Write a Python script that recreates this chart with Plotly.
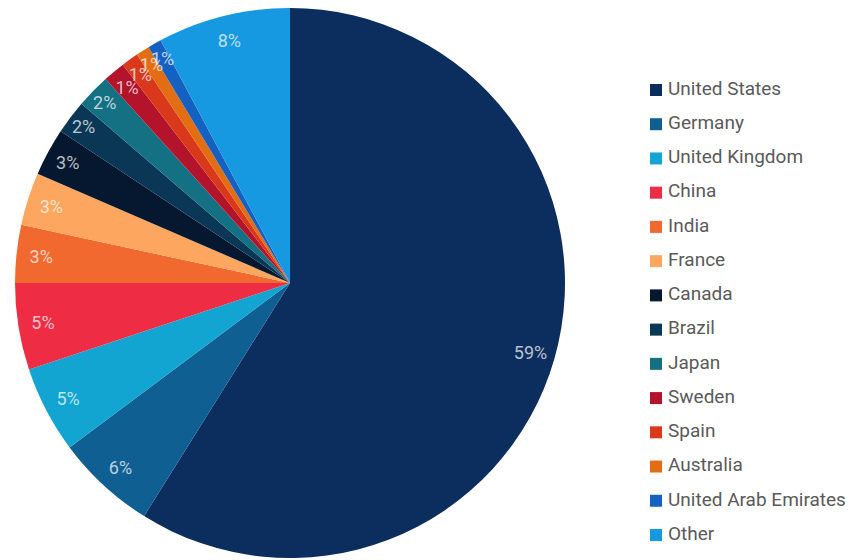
import plotly.graph_objects as go

countries = ["United States", "Germany", "United Kingdom", "China", "India", "France",
             "Canada", "Brazil", "Japan", "Sweden", "Spain", "Australia",
             "United Arab Emirates", "Other"]
shares = [58.9, 5.9, 5.1, 5.1, 3.4, 3.1, 2.8, 2.0, 2.0, 1.3, 1.0, 0.8, 0.8, 7.8]
colors = ["#0c2e5e", "#0f5f93", "#12a5d1", "#ee2c43", "#f2692f", "#fca65f",
          "#06182f", "#0b3756", "#137183", "#b3142b", "#d9391a", "#e36d12",
          "#1561c2", "#1699e1"]
legend_rank = list(range(len(countries)))

W, H = 864, 560
# page is rendered with an 8px body margin; pie spans figure px x 6..558, y 0..550
dom_x = [6 / W, 558 / W]
dom_y = [10 / H, 1.0]
# slightly smaller ring used only to place the labels of the thin slices
dom_x_small = [16 / W, 548 / W]
dom_y_small = [20 / H, 1.0 - 10 / H]

label_font = dict(family="Roboto", size=18, color="rgba(255,255,255,0.72)")
tmpl_big = ["%{percent:.0%}" if s >= 1.5 else "" for s in shares]
tmpl_small = ["%{percent:.0%}" if s < 1.5 else "" for s in shares]
clear = ["rgba(0,0,0,0)"] * len(countries)

fig = go.Figure()
fig.add_trace(go.Pie(
    labels=countries, values=shares, sort=False, direction="clockwise", rotation=0,
    marker=dict(colors=colors, line=dict(width=0)),
    textinfo="none", showlegend=False, hoverinfo="label+percent",
    domain=dict(x=dom_x, y=dom_y),
))
fig.add_trace(go.Pie(
    labels=countries, values=shares, sort=False, direction="clockwise", rotation=0,
    hole=0.82, marker=dict(colors=clear, line=dict(width=0)),
    texttemplate=tmpl_big, textposition="inside", insidetextorientation="horizontal",
    textfont=label_font, showlegend=False, hoverinfo="skip",
    domain=dict(x=dom_x, y=dom_y),
))
fig.add_trace(go.Pie(
    labels=countries, values=shares, sort=False, direction="clockwise", rotation=0,
    hole=0.82, marker=dict(colors=clear, line=dict(width=0)),
    texttemplate=tmpl_small, textposition="inside", insidetextorientation="horizontal",
    textfont=label_font, showlegend=False, hoverinfo="skip",
    domain=dict(x=dom_x_small, y=dom_y_small),
))
fig.add_trace(go.Scatter(
    x=[8 / 224] * len(countries), y=legend_rank, mode="markers",
    marker=dict(symbol="square", size=12, color=colors),
    showlegend=False, hoverinfo="skip", cliponaxis=False,
    xaxis="x", yaxis="y",
))
fig.add_trace(go.Scatter(
    x=[20 / 224] * len(countries), y=legend_rank, mode="text",
    text=countries, textposition="middle right",
    textfont=dict(family="Roboto", size=19, color="#5a5a5a"),
    showlegend=False, hoverinfo="skip", cliponaxis=False,
    xaxis="x", yaxis="y",
))

fig.update_layout(
    width=W, height=H, margin=dict(l=0, r=0, t=0, b=0),
    paper_bgcolor="white", plot_bgcolor="rgba(0,0,0,0)",
    uniformtext=dict(minsize=18, mode="show"),
    xaxis=dict(domain=[640 / W, 1.0], range=[0, 1], visible=False, fixedrange=True),
    yaxis=dict(domain=[0, 1], range=[13 + 33 / 34.23, -82 / 34.23], visible=False, fixedrange=True),
)
fig.write_html("out.html")
